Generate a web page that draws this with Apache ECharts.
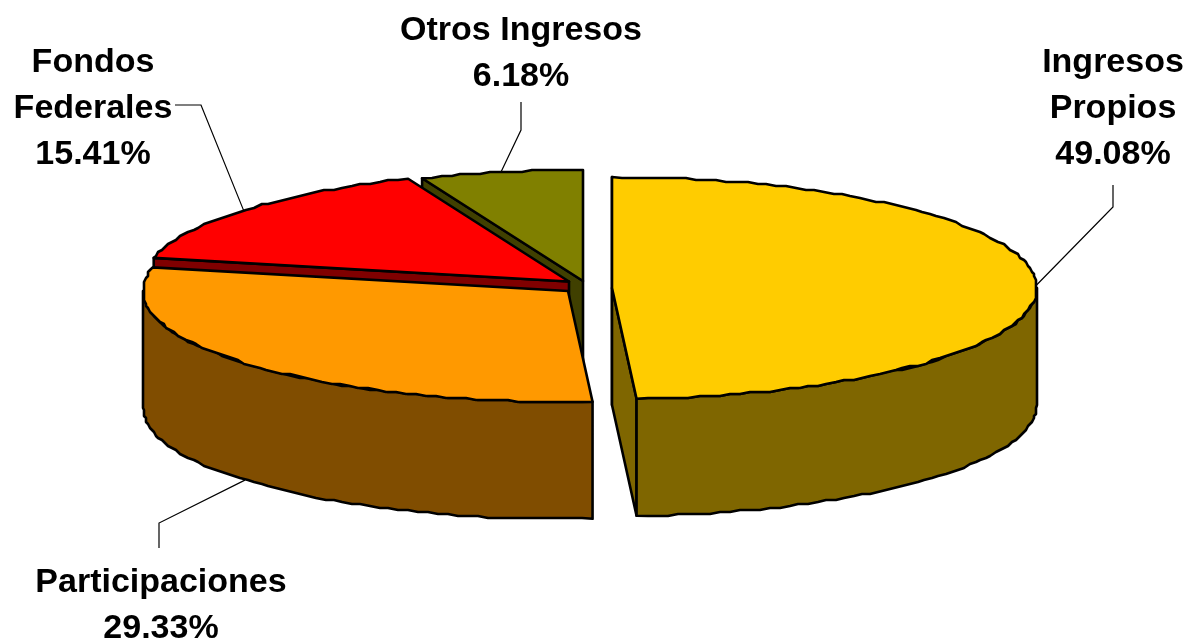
<!DOCTYPE html>
<html style="height: 100%">
<head>
  <meta charset="utf-8">
</head>
<body style="height: 100%; margin: 0; background: #fff">
  <div id="container" style="height: 100%"></div>
  <script type="text/javascript" src="https://cdn.jsdelivr.net/npm/echarts@6/dist/echarts.min.js"></script>
  <script type="text/javascript">
    // data, clockwise from 12 o'clock
    var names = ['Ingresos Propios', 'Participaciones', 'Fondos Federales', 'Otros Ingresos'];
    var values = [49.08, 29.33, 15.41, 6.18];
    var labelLines = [['Ingresos', 'Propios'], ['Participaciones'], ['Fondos', 'Federales'], ['Otros Ingresos']];

    // colours
    var topColors = ['#ffcc00', '#ff9900', '#ff0000', '#808000'];
    var wallColors = ['#7f6600', '#804d00', '#800000', '#404000'];

    // 3d pie layout
    var rx = 425, ry = 111, depth = 117;
    var apexes = [[612, 288], [568, 291], [569, 281.5], [583, 281]];
    var drawRank = [3, 2, 1, 0]; // back to front rank of each slice
    var fontSize = 34, lineGap = 46;
    var labelCenters = [[1113, 63], [161, 583], [93, 63], [521, 31]];
    var elbows = [[[1113, 207], [1113, 185]], [[159, 523], [159, 548]], [[201, 105], [175, 105]], [[521, 130], [521, 102]]];

    var total = values.reduce(function (a, b) { return a + b; }, 0);

    function rad(i) {
      var sum = 0;
      for (var k = 0; k < i; k++) sum += values[k];
      return sum / total * Math.PI * 2;
    }

    // point on the rim of slice i at angle t, wobble snaps to a grid like the old raster
    function rim(i, t, dy, wobble) {
      var x = apexes[i][0] + rx * Math.sin(t);
      var y = apexes[i][1] - ry * Math.cos(t) + dy;
      if (wobble) {
        y = Math.round(y / 2) * 2;
        x = Math.round(x / 2) * 2;
      }
      return [x, y];
    }

    function arc(i, t0, t1, dy) {
      var pts = [];
      var n = Math.max(2, Math.ceil((t1 - t0) / 0.025));
      for (var k = 0; k <= n; k++) {
        pts.push(rim(i, t0 + (t1 - t0) * k / n, dy, k > 0 && k < n));
      }
      return pts;
    }

    function poly(points, fill, z) {
      return {
        type: 'polygon',
        z2: z,
        shape: { points: points },
        style: { fill: fill, stroke: '#000', lineWidth: 2.6, lineJoin: 'round' }
      };
    }

    function radialWall(i, t, z) {
      var a = apexes[i];
      var r = rim(i, t, 0);
      return poly([a, r, [r[0], r[1] + depth], [a[0], a[1] + depth]], wallColors[i], z);
    }

    function renderSlice(params, api) {
      var i = params.dataIndex;
      var t0 = rad(i), t1 = rad(i + 1);
      var base = drawRank[i] * 10;
      var kids = [];

      // cut faces, only the ones turned towards the viewer
      if (Math.sin(t0) < 0 || t0 === 0) kids.push(radialWall(i, t0, base));
      if (Math.sin(t1) > 0) kids.push(radialWall(i, t1, base));

      // outer wall, front half only
      var w0 = Math.max(t0, Math.PI / 2), w1 = Math.min(t1, Math.PI * 1.5);
      if (w1 > w0) {
        var upper = arc(i, w0, w1, 0);
        var lower = arc(i, w0, w1, depth).reverse();
        kids.push(poly(upper.concat(lower), wallColors[i], base + 1));
      }

      // top face
      kids.push(poly([apexes[i]].concat(arc(i, t0, t1, 0)), topColors[i], base + 2));

      // leader line from the middle of the slice's rim
      var tm = (t0 + t1) / 2;
      var front = Math.cos(tm) < 0 && Math.abs(Math.sin(tm)) < 0.95;
      var start = rim(i, tm, front ? depth : 0);
      kids.push({
        type: 'polyline',
        z2: 60,
        shape: { points: [start].concat(elbows[i]) },
        style: { fill: null, stroke: '#000', lineWidth: 1.2 }
      });

      // label, last line is the share
      var lines = labelLines[i].concat([api.value(0).toFixed(2) + '%']);
      lines.forEach(function (s, k) {
        kids.push({
          type: 'text',
          z2: 70,
          style: {
            x: labelCenters[i][0],
            y: labelCenters[i][1] + k * lineGap,
            text: s,
            align: 'center',
            verticalAlign: 'middle',
            fill: '#000',
            font: 'bold ' + fontSize + 'px "Liberation Sans", Arial, sans-serif'
          }
        });
      });

      return { type: 'group', children: kids };
    }

    var myChart = echarts.init(document.getElementById('container'));
    var option = {
      backgroundColor: '#fff',
      animation: false,
      series: [{
        type: 'custom',
        coordinateSystem: 'none',
        renderItem: renderSlice,
        silent: true,
        data: values.map(function (v, i) { return { name: names[i], value: [v] }; })
      }]
    };
    myChart.setOption(option);
  </script>
</body>
</html>
